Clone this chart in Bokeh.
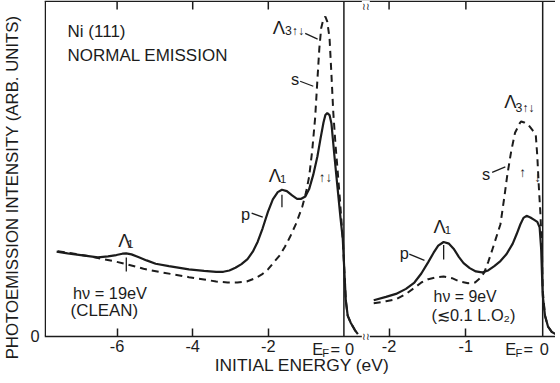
from bokeh.plotting import figure
from bokeh.models import Range1d, LinearAxis, FixedTicker, Label
from bokeh.embed import file_html
from bokeh.resources import INLINE

FONT = "Liberation Sans"
INK = "#1c1c1c"
FS = 1.0235   # font scale

# ---------------- data (initial energy in eV, intensity in arb. units) ----------------
# left panel: h nu = 19 eV (clean)
left_E_solid = [-7.60, -7.31, -6.91, -6.51, -6.24, -6.02, -5.86, -5.76, -5.62, -5.44, -5.22, -4.98,
                -4.63, -4.10, -3.70, -3.38, -3.19, -3.03, -2.87, -2.71, -2.55, -2.41, -2.28, -2.15,
                -2.01, -1.88, -1.75, -1.64, -1.51, -1.37, -1.24, -1.13, -1.02, -0.92, -0.81, -0.70,
                -0.62, -0.54, -0.49, -0.44, -0.38, -0.33, -0.25, -0.17, -0.09, -0.03, 0.01, 0.05,
                0.10, 0.18, 0.29, 0.37]
left_I_solid = [25.2, 24.7, 24.1, 23.5, 23.8, 24.2, 24.6, 24.7, 24.4, 23.6, 22.6, 21.6,
                20.9, 19.9, 19.5, 19.2, 19.2, 19.6, 20.4, 21.5, 23.0, 25.2, 28.2, 32.2,
                37.1, 40.8, 43.0, 43.7, 43.3, 42.0, 41.0, 41.0, 41.7, 43.9, 48.2, 53.7,
                58.9, 63.8, 66.0, 66.6, 66.0, 63.5, 53.7, 44.5, 35.3, 29.1, 19.9, 10.7,
                6.1, 4.0, 1.8, 0.6]
left_E_dashed = [-7.57, -7.36, -7.09, -6.77, -6.51, -6.10, -5.76, -5.30, -4.90, -4.50, -4.10, -3.70,
                 -3.38, -3.08, -2.82, -2.57, -2.36, -2.17, -2.01, -1.85, -1.69, -1.56, -1.43, -1.26,
                 -1.10, -1.00, -0.92, -0.84, -0.76, -0.70, -0.65, -0.60, -0.54, -0.49, -0.44, -0.38,
                 -0.33, -0.28, -0.22, -0.17, -0.11, -0.06, -0.03, 0.01, 0.05, 0.10, 0.18, 0.29, 0.37]
left_I_dashed = [25.3, 25.0, 24.5, 23.9, 23.3, 22.4, 21.5, 20.1, 19.2, 18.4, 17.6, 16.9,
                 16.3, 16.0, 16.0, 16.3, 17.2, 18.4, 19.9, 22.1, 24.2, 26.7, 29.5, 33.7,
                 38.7, 43.0, 47.6, 55.2, 65.3, 76.7, 85.9, 92.0, 94.8, 95.4, 93.9, 89.0,
                 78.2, 66.6, 56.8, 50.0, 41.4, 33.7, 29.1, 19.9, 10.7, 6.1, 4.0, 1.8, 0.6]

# right panel: h nu = 9 eV (<= 0.1 L O2)
right_E_solid = [-2.20, -2.04, -1.91, -1.78, -1.67, -1.58, -1.49, -1.42, -1.36, -1.29, -1.22, -1.16,
                 -1.09, -1.03, -0.95, -0.87, -0.79, -0.71, -0.63, -0.55, -0.47, -0.39, -0.34, -0.29,
                 -0.25, -0.21, -0.16, -0.11, -0.07, -0.04, -0.02, 0.00, 0.03, 0.07, 0.12, 0.17, 0.22]
right_I_solid = [10.7, 11.7, 12.6, 14.1, 16.0, 18.7, 22.1, 24.9, 27.0, 28.1, 27.6, 26.1,
                 23.6, 21.8, 20.3, 19.3, 19.0, 19.6, 20.9, 22.4, 24.5, 27.6, 30.4, 33.4,
                 35.3, 35.9, 35.4, 34.7, 34.1, 32.5, 26.1, 12.3, 6.1, 2.8, 1.2, 0.6, 0.3]
right_E_dashed = [-2.20, -2.04, -1.91, -1.78, -1.67, -1.58, -1.49, -1.38, -1.29, -1.18, -1.08, -0.97,
                  -0.88, -0.82, -0.76, -0.71, -0.66, -0.61, -0.55, -0.50, -0.46, -0.41, -0.36, -0.30,
                  -0.28, -0.24, -0.18, -0.13, -0.09, -0.07, -0.05, -0.03, -0.01, 0.00, 0.03, 0.07,
                  0.12, 0.17, 0.22]
right_I_dashed = [9.8, 10.4, 11.0, 12.6, 14.4, 16.0, 17.0, 17.6, 17.8, 17.3, 16.3, 15.8,
                  16.0, 17.2, 19.0, 22.1, 25.5, 29.1, 33.4, 41.4, 48.2, 55.2, 60.7, 63.5,
                  64.1, 63.8, 62.9, 61.4, 60.1, 53.7, 44.5, 36.8, 26.1, 13.8, 6.1, 2.8,
                  1.2, 0.6, 0.3]

# tick values / labels
left_ticks = [-6, -4, -2]
left_tick_labels = ["-6", "-4", "-2"]
right_ticks = [-2, -1]
right_tick_labels = ["-2", "-1"]

# broken axis: right panel is drawn with an expanded energy scale
K = 2.032     # right-panel scale factor relative to left panel
U0 = 5.259    # plot position of the right panel's Fermi level
X0, X1 = -7.921, 5.598
Y0, Y1 = -11.47, 100.21   # frame extends below 0 to hold the label rows
PPU_Y = 3.349


def to_right(E):
    return [U0 + K * e for e in E]


p = figure(frame_width=511, frame_height=374, output_backend="svg", toolbar_location=None,
           x_range=Range1d(X0, X1), y_range=Range1d(Y0, Y1),
           x_axis_type=None, y_axis_type=None,
           min_border_left=41, min_border_right=0, min_border_top=0, min_border_bottom=0)
p.outline_line_color = None
p.background_fill_color = "white"
p.border_fill_color = "white"

xticks = left_ticks + to_right(right_ticks)
overrides = {t: s for t, s in zip(xticks, left_tick_labels + right_tick_labels)}


def px(size):
    return f"{size * FS:.2f}px"


def style_axis(ax):
    ax.axis_line_color = INK
    ax.axis_line_width = 1.5
    ax.major_tick_line_color = INK
    ax.major_tick_line_width = 1.5
    ax.minor_tick_line_color = None
    ax.major_label_text_font = FONT
    ax.major_label_text_color = INK
    ax.axis_label_text_font = FONT
    ax.axis_label_text_font_style = "normal"
    ax.axis_label_text_color = INK


# bottom axis pinned at intensity 0
xb = LinearAxis(ticker=FixedTicker(ticks=xticks, minor_ticks=[]), fixed_location=0,
                major_label_overrides=overrides)
style_axis(xb)
xb.major_tick_in = 8
xb.major_tick_out = 0
xb.major_label_standoff = 4
xb.major_label_text_font_size = px(16)
p.add_layout(xb, "below")

# left axis: only the "0" label and the title; its spine is drawn below (0..100)
yl = LinearAxis(ticker=FixedTicker(ticks=[0], minor_ticks=[]), major_label_overrides={0: "0"},
                axis_label="PHOTOEMISSION INTENSITY (ARB. UNITS)", bounds=(-1.5, 100))
style_axis(yl)
yl.axis_line_color = None
yl.major_tick_in = 0
yl.major_tick_out = 0
yl.major_label_standoff = 5
yl.major_label_text_font_size = px(16)
yl.axis_label_text_font_size = "16.8px"
yl.axis_label_standoff = 5
p.add_layout(yl, "left")

# frame: left spine, top line with inward ticks, and the Fermi-level lines of both panels
tick_len = 8.2 / PPU_Y
p.segment([X0 + 0.02], [0], [X0 + 0.02], [100], line_color=INK, line_width=1.5)
p.segment([X0], [100], [X1], [100], line_color=INK, line_width=1.5)
p.segment(xticks, [100] * len(xticks), xticks, [100 - tick_len] * len(xticks),
          line_color=INK, line_width=1.5)
p.segment([0, U0], [0, 0], [0, U0], [100, 100], line_color=INK, line_width=1.5)

# spectra
p.line(left_E_solid, left_I_solid, line_color=INK, line_width=2.2)
p.line(left_E_dashed, left_I_dashed, line_color=INK, line_width=2.0, line_dash="7 5")
p.line(to_right(right_E_solid), right_I_solid, line_color=INK, line_width=2.2)
p.line(to_right(right_E_dashed), right_I_dashed, line_color=INK, line_width=2.0, line_dash="7 5")

# leader lines and peak markers
seg_x0 = [-1.024, -1.158, -2.441, -1.639, -5.757, 3.922, 1.730, 2.639]
seg_y0 = [90.4, 76.1, 36.7, 42.2, 23.5, 48.9, 24.5, 27.2]
seg_x1 = [-0.695, -0.810, -2.147, -1.639, -5.757, 4.270, 2.131, 2.639]
seg_y1 = [88.7, 74.6, 35.5, 38.5, 19.3, 50.5, 22.6, 22.9]
p.segment(seg_x0, seg_y0, seg_x1, seg_y1, line_color=INK, line_width=1.3)


def lab(x, y, text, size=16, align="left", baseline="middle", bg=None):
    p.add_layout(Label(x=x, y=y, text=text, text_font=FONT, text_font_size=px(size),
                       text_color=INK, text_align=align, text_baseline=baseline,
                       background_fill_color=bg))


lab(-7.31, 91.1, "Ni (111)", 16.6)
lab(-7.31, 83.8, "NORMAL EMISSION", 16.6)
# left panel annotations
lab(-1.88, 92.0, "Λ", 18)
lab(-1.56, 91.0, "3↑↓", 12)
lab(-1.29, 76.8, "s", 16, "center")
lab(-1.987, 48.0, "Λ", 18)
lab(-1.693, 46.8, "1", 11)
lab(-0.489, 47.4, "↑↓", 13, "center")
lab(-2.60, 36.4, "p", 16, "center")
lab(-5.97, 28.4, "Λ", 18)
lab(-5.73, 27.5, "1", 11)
lab(-7.17, 13.0, "hν = 19eV", 16)
lab(-7.23, 7.6, "(CLEAN)", 16.5)
# right panel annotations
lab(4.243, 70.0, "Λ", 18)
lab(4.537, 68.2, "3↑↓", 12)
lab(3.762, 48.3, "s", 16, "center")
lab(4.725, 48.9, "↑", 13, "center")
lab(5.126, 47.4, "↓", 13, "center")
lab(2.372, 32.7, "Λ", 18)
lab(2.666, 31.8, "1", 11)
lab(1.596, 24.8, "p", 16, "center")
lab(2.372, 11.8, "hν = 9eV", 15.5)
lab(2.318, 6.4, "(≲0.1 L.O₂)", 16)

# Fermi-level tick labels  E_F = 0  (left panel, right panel)
for e_x, f_x, eq_x, z_x in ((-0.837, -0.570, -0.356, 0.152), (4.270, 4.537, 4.751, 5.300)):
    lab(e_x, -3.76, "E", 16)
    lab(f_x, -4.99, "F", 11)
    lab(eq_x, -3.76, "=", 16)
    lab(z_x, -3.76, "0", 16, "center")

# x-axis title
lab(-1.104, -8.63, "INITIAL ENERGY (eV)", 17, "center")

# axis-break marks
lab(0.58, Y1, "≀≀", 10, "center", "top", bg="white")
lab(0.58, 0, "≀≀", 10, "center", "middle", bg="white")

open("out.html", "w").write(file_html(p, INLINE))
